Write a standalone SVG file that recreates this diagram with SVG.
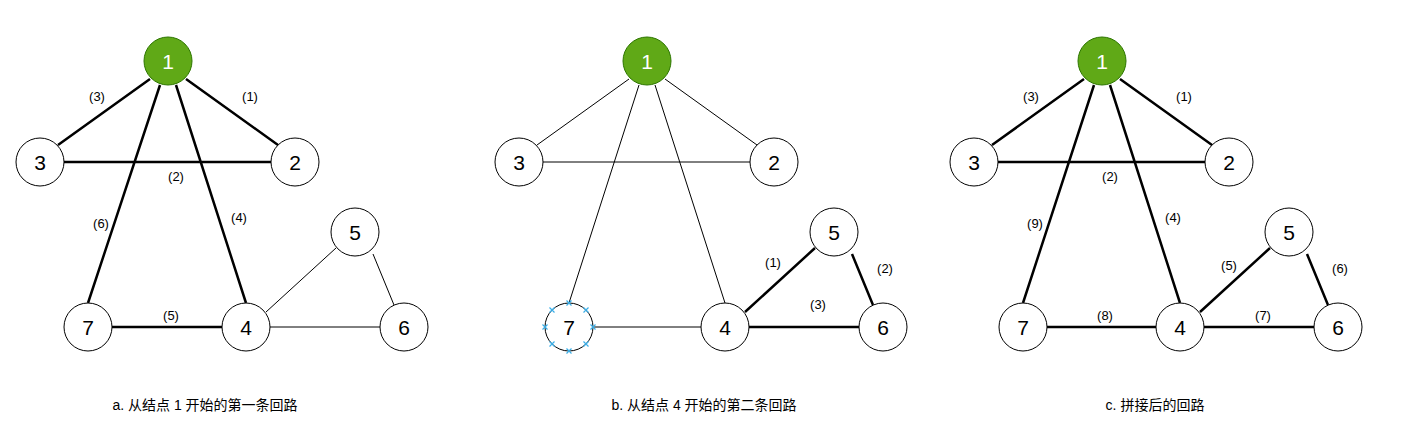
<svg xmlns="http://www.w3.org/2000/svg" width="1414" height="447" viewBox="0 0 1414 447">
<style>
.n{fill:#fff;stroke:#000;stroke-width:1}
.g{fill:#60a917;stroke:#2d7600;stroke-width:1}
.t{font-family:"Liberation Sans",Arial,sans-serif;font-size:21px;text-anchor:middle;dominant-baseline:central}
.w{fill:#fff}
.l{font-family:"Liberation Sans",Arial,sans-serif;font-size:13px;text-anchor:middle;dominant-baseline:central}
.c{font-family:"Liberation Sans","Noto Sans CJK SC",sans-serif;font-size:14px;text-anchor:middle}
.k{stroke:#000;stroke-width:2.5;fill:none}
.s{stroke:#000;stroke-width:1;fill:none}
.x{stroke:#3aaee8;stroke-width:1.2}
</style>
<rect width="1414" height="447" fill="#fff"/>
<defs>
<g id="xm"><path class="x" d="M-2.5,-2.5L2.5,2.5M-2.5,2.5L2.5,-2.5"/></g>
</defs>
<g id="connectors">
<!-- panel a -->
<path class="k" d="M186,79L278,145M150,79L58,145M64,162H271M160,85L88,303M176,85L246,303M112,327H222"/>
<path class="s" d="M266,312L336,248M373,254L394,305M270,327H380"/>
<!-- panel b -->
<path class="s" d="M665,79L757,145M629,79L537,145M543,162H750M639,85L569,303M655,85L725,303M593,327H701"/>
<path class="k" d="M745,312L815,248M852,254L873,305M749,327H859"/>
<!-- panel c -->
<path class="k" d="M1120,79L1212,145M1084,79L992,145M998,162H1205M1094,85L1023,303M1110,85L1180,303M1047,327H1156M1200,312L1270,248M1307,254L1328,305M1204,327H1314"/>
</g>
<g id="labels">
<text class="l" x="97" y="96">(3)</text><text class="l" x="250" y="96">(1)</text><text class="l" x="176" y="176">(2)</text><text class="l" x="101" y="223">(6)</text><text class="l" x="239" y="217">(4)</text><text class="l" x="171" y="315">(5)</text>
<text class="l" x="773" y="262">(1)</text><text class="l" x="885" y="268">(2)</text><text class="l" x="818" y="304">(3)</text>
<text class="l" x="1031" y="96">(3)</text><text class="l" x="1184" y="96">(1)</text><text class="l" x="1110" y="176">(2)</text><text class="l" x="1035" y="223">(9)</text><text class="l" x="1173" y="217">(4)</text><text class="l" x="1229" y="265">(5)</text><text class="l" x="1340" y="268">(6)</text><text class="l" x="1105" y="315">(8)</text><text class="l" x="1263" y="315">(7)</text>
</g>
<g id="a1"><circle class="g" cx="168" cy="61" r="24"/><text class="t w" x="168" y="61">1</text></g>
<g id="a2"><circle class="n" cx="295" cy="162" r="24"/><text class="t" x="295" y="162">2</text></g>
<g id="a3"><circle class="n" cx="40" cy="162" r="24"/><text class="t" x="40" y="162">3</text></g>
<g id="a4"><circle class="n" cx="246" cy="327" r="24"/><text class="t" x="246" y="327">4</text></g>
<g id="a5"><circle class="n" cx="355" cy="232" r="24"/><text class="t" x="355" y="232">5</text></g>
<g id="a6"><circle class="n" cx="404" cy="327" r="24"/><text class="t" x="404" y="327">6</text></g>
<g id="a7"><circle class="n" cx="88" cy="327" r="24"/><text class="t" x="88" y="327">7</text></g>
<g id="b1"><circle class="g" cx="647" cy="61" r="24"/><text class="t w" x="647" y="61">1</text></g>
<g id="b2"><circle class="n" cx="774" cy="162" r="24"/><text class="t" x="774" y="162">2</text></g>
<g id="b3"><circle class="n" cx="519" cy="162" r="24"/><text class="t" x="519" y="162">3</text></g>
<g id="b4"><circle class="n" cx="725" cy="327" r="24"/><text class="t" x="725" y="327">4</text></g>
<g id="b5"><circle class="n" cx="834" cy="232" r="24"/><text class="t" x="834" y="232">5</text></g>
<g id="b6"><circle class="n" cx="883" cy="327" r="24"/><text class="t" x="883" y="327">6</text></g>
<g id="b7"><circle class="n" cx="569" cy="327" r="24"/><text class="t" x="569" y="327">7</text>
<use href="#xm" x="569" y="303"/><use href="#xm" x="586" y="310"/><use href="#xm" x="593" y="327"/><use href="#xm" x="586" y="344"/><use href="#xm" x="569" y="351"/><use href="#xm" x="552" y="344"/><use href="#xm" x="545" y="327"/><use href="#xm" x="552" y="310"/></g>
<g id="c1"><circle class="g" cx="1102" cy="61" r="24"/><text class="t w" x="1102" y="61">1</text></g>
<g id="c2"><circle class="n" cx="1229" cy="162" r="24"/><text class="t" x="1229" y="162">2</text></g>
<g id="c3"><circle class="n" cx="974" cy="162" r="24"/><text class="t" x="974" y="162">3</text></g>
<g id="c4"><circle class="n" cx="1180" cy="327" r="24"/><text class="t" x="1180" y="327">4</text></g>
<g id="c5"><circle class="n" cx="1289" cy="232" r="24"/><text class="t" x="1289" y="232">5</text></g>
<g id="c6"><circle class="n" cx="1338" cy="327" r="24"/><text class="t" x="1338" y="327">6</text></g>
<g id="c7"><circle class="n" cx="1023" cy="327" r="24"/><text class="t" x="1023" y="327">7</text></g>
<g id="captions">
<text class="c" x="205" y="410">a. 从结点 1 开始的第一条回路</text>
<text class="c" x="704" y="410">b. 从结点 4 开始的第二条回路</text>
<text class="c" x="1155" y="410">c. 拼接后的回路</text>
</g>
</svg>
